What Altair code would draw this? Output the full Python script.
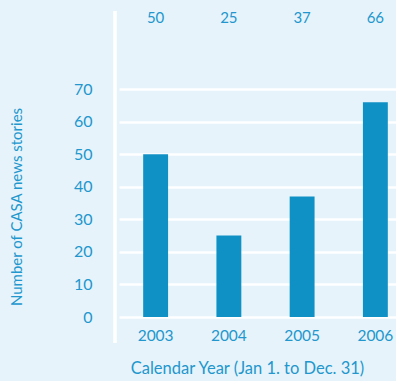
import altair as alt
import pandas as pd

years = ["2003", "2004", "2005", "2006"]
stories = [50, 25, 37, 66]
y_ticks = [0, 10, 20, 30, 40, 50, 60, 70]

BG = "#e6f3fa"
BAR = "#1091c6"
INK = "#2297cd"
FONT = "Lato"

W, H = 294, 306

df = pd.DataFrame({"year": years, "stories": stories})

x = alt.X(
    "year:N",
    scale=alt.Scale(range=[17, 310], paddingInner=0.66, paddingOuter=0.33),
    axis=alt.Axis(
        title="Calendar Year (Jan 1. to Dec. 31)",
        labelAngle=0,
        ticks=False,
        domain=False,
        grid=False,
        labelPadding=11,
        labelFontSize=15.5,
        titleFontSize=16.5,
        titlePadding=17,
        titleFontWeight="normal",
        titleX=145,
    ),
)

bars = alt.Chart(df).mark_bar(color=BAR).encode(
    x=x,
    y=alt.Y(
        "stories:Q",
        scale=alt.Scale(domain=[0, 94], nice=False),
        axis=alt.Axis(
            title="Number of CASA news stories",
            values=y_ticks,
            ticks=False,
            domain=False,
            grid=True,
            gridColor="white",
            gridWidth=2.5,
            gridOpacity=1,
            labelPadding=10,
            labelFontSize=16,
            titleFontSize=15,
            titleFontWeight="normal",
            titleBaseline="middle",
            titleX=-86,
            titleY=195.5,
        ),
    ),
)

# value labels along the top of the chart
labels = alt.Chart(df).mark_text(
    color=INK, font=FONT, fontSize=15, baseline="middle"
).encode(
    x="year:N",
    y=alt.value(7),
    text="stories:Q",
)

# vertical white separator between the value axis and the bars
divider = alt.Chart(df).mark_rule(color="white", strokeWidth=2.7).encode(
    x=alt.value(13),
    y=alt.value(0),
    y2=alt.value(332),
)

chart = (
    alt.layer(bars, divider, labels)
    .properties(
        width=W,
        height=H,
        background=BG,
        padding={"left": 102, "top": 11, "right": 0, "bottom": 64},
        autosize=alt.AutoSizeParams(type="none"),
    )
    .configure_view(stroke=None)
    .configure_axis(
        labelColor=INK,
        titleColor=INK,
        labelFont=FONT,
        titleFont=FONT,
    )
)

chart.save("out.html", embed_options={"renderer": "svg", "actions": False})
